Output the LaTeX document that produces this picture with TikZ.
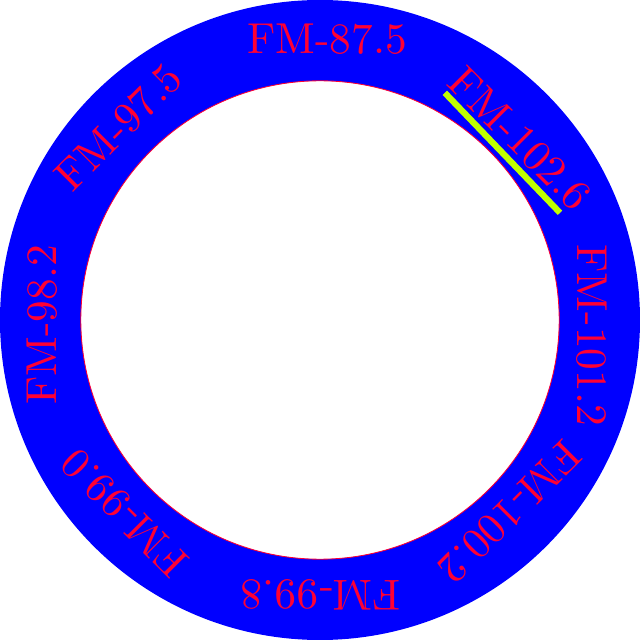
\documentclass[tikz,border=0pt]{standalone}
\usepackage{tikz}
\usetikzlibrary{calc}
\definecolor{DialBlue}{HTML}{0000FF}
\definecolor{DialRed}{HTML}{FF0033}
\definecolor{DialLime}{HTML}{C0FF00}
\tikzset{
  station/.style={text=DialRed,inner sep=0pt,font=\fontsize{10}{12}\selectfont,scale=1.54},
  pointer/.style={draw=DialLime,line width=2.2pt}
}
\begin{document}
\begin{tikzpicture}[x=1cm,y=1cm]
  \path[use as bounding box] (-4,-4) rectangle (4,4);

  % dial ring
  \fill[DialBlue,even odd rule] (0,0) circle (4) (0,0) circle (2.99);
  \draw[DialRed,line width=0.3pt] (0,0) circle (2.99);

  % station labels
  \node[station] (f875) at (0.09,3.51) {FM-87.5};
  \node[station,rotate=-45] (f1026) at (2.50,2.27) {FM-102.6};
  \node[station,rotate=-90] (f1012) at (3.40,-0.19) {FM-101.2};
  \node[station,rotate=-135] (f1002) at (2.37,-2.40) {FM-100.2};
  \node[station,rotate=180] (f998) at (0.01,-3.44) {FM-99.8};
  \node[station,rotate=135] (f990) at (-2.44,-2.41) {FM-99.0};
  \node[station,rotate=90] (f982) at (-3.47,-0.06) {FM-98.2};
  \node[station,rotate=45] (f975) at (-2.52,2.41) {FM-97.5};

  % tuning pointer
  \coordinate (tuneA) at (1.56,2.84);
  \coordinate (tuneB) at (3.00,1.34);
  \draw[pointer] (tuneA) -- (tuneB);
\end{tikzpicture}
\end{document}
